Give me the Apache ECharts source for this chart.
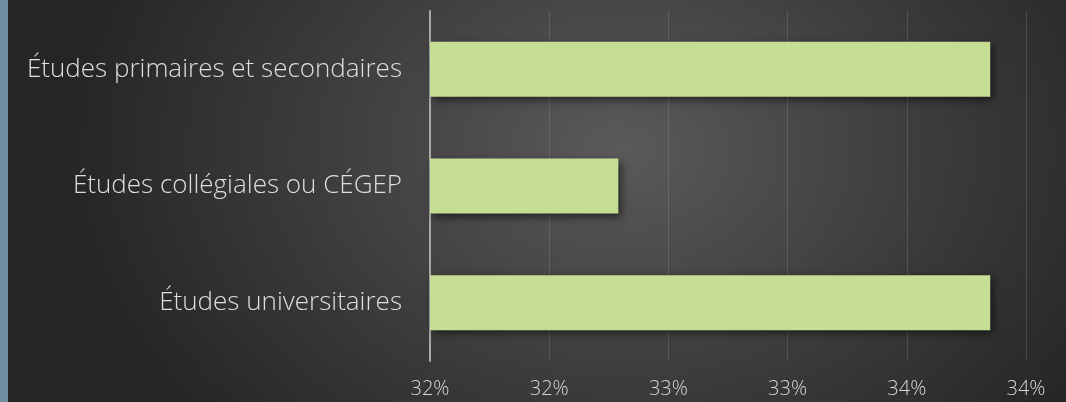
<!DOCTYPE html>
<html>
<head>
<meta charset="utf-8">
<script src="https://cdn.jsdelivr.net/npm/echarts@6/dist/echarts.min.js"></script>
<style>
  html, body { margin: 0; padding: 0; }
  .wrap {
    position: relative;
    width: 1066px;
    height: 402px;
    background: radial-gradient(ellipse 560px 420px at 620px 150px, #5a5a5a 0%, #3c3c3c 55%, #252525 100%);
    overflow: hidden;
  }
  .strip {
    position: absolute;
    left: 0; top: 0;
    width: 8px; height: 402px;
    background: #6f8fa3;
  }
  #chart { position: absolute; left: 0; top: 0; width: 1066px; height: 402px; }
</style>
</head>
<body>
<div class="wrap">
  <div class="strip"></div>
  <div id="chart"></div>
</div>
<script>
// niveau de scolarité
const categories = ['Études primaires et secondaires', 'Études collégiales ou CÉGEP', 'Études universitaires']
const values = [33.85, 32.29, 33.85]
// axe des x : 31.5 → 34 par pas de 0.5, libellés arrondis
const xMin = 31.5
const xMax = 34
const xStep = 0.5

const chart = echarts.init(document.getElementById('chart'))

const option = {
  backgroundColor: 'transparent',
  textStyle: { fontFamily: '"Open Sans", sans-serif' },
  grid: { left: 430, right: 40, top: 11, bottom: 41, containLabel: false },
  xAxis: {
    type: 'value',
    min: xMin,
    max: xMax,
    interval: xStep,
    axisLine: { show: false },
    axisTick: { show: false },
    splitLine: { lineStyle: { color: 'rgba(255,255,255,0.12)', width: 1 } },
    axisLabel: {
      color: '#d4d4d4',
      fontSize: 20,
      fontWeight: 300,
      margin: 18,
      formatter: v => Math.round(v) + '%'
    }
  },
  yAxis: {
    type: 'category',
    inverse: true,
    data: categories,
    axisLine: { lineStyle: { color: '#a8a8a8', width: 2 } },
    axisTick: { show: false },
    axisLabel: {
      color: '#dedede',
      fontSize: 26,
      fontWeight: 300,
      margin: 28
    }
  },
  series: [
    {
      type: 'bar',
      data: values,
      barWidth: 55,
      itemStyle: {
        color: '#c5de94',
        shadowColor: 'rgba(0,0,0,0.55)',
        shadowBlur: 8,
        shadowOffsetX: 3,
        shadowOffsetY: 3
      }
    }
  ]
}

chart.setOption(option)
</script>
</body>
</html>
